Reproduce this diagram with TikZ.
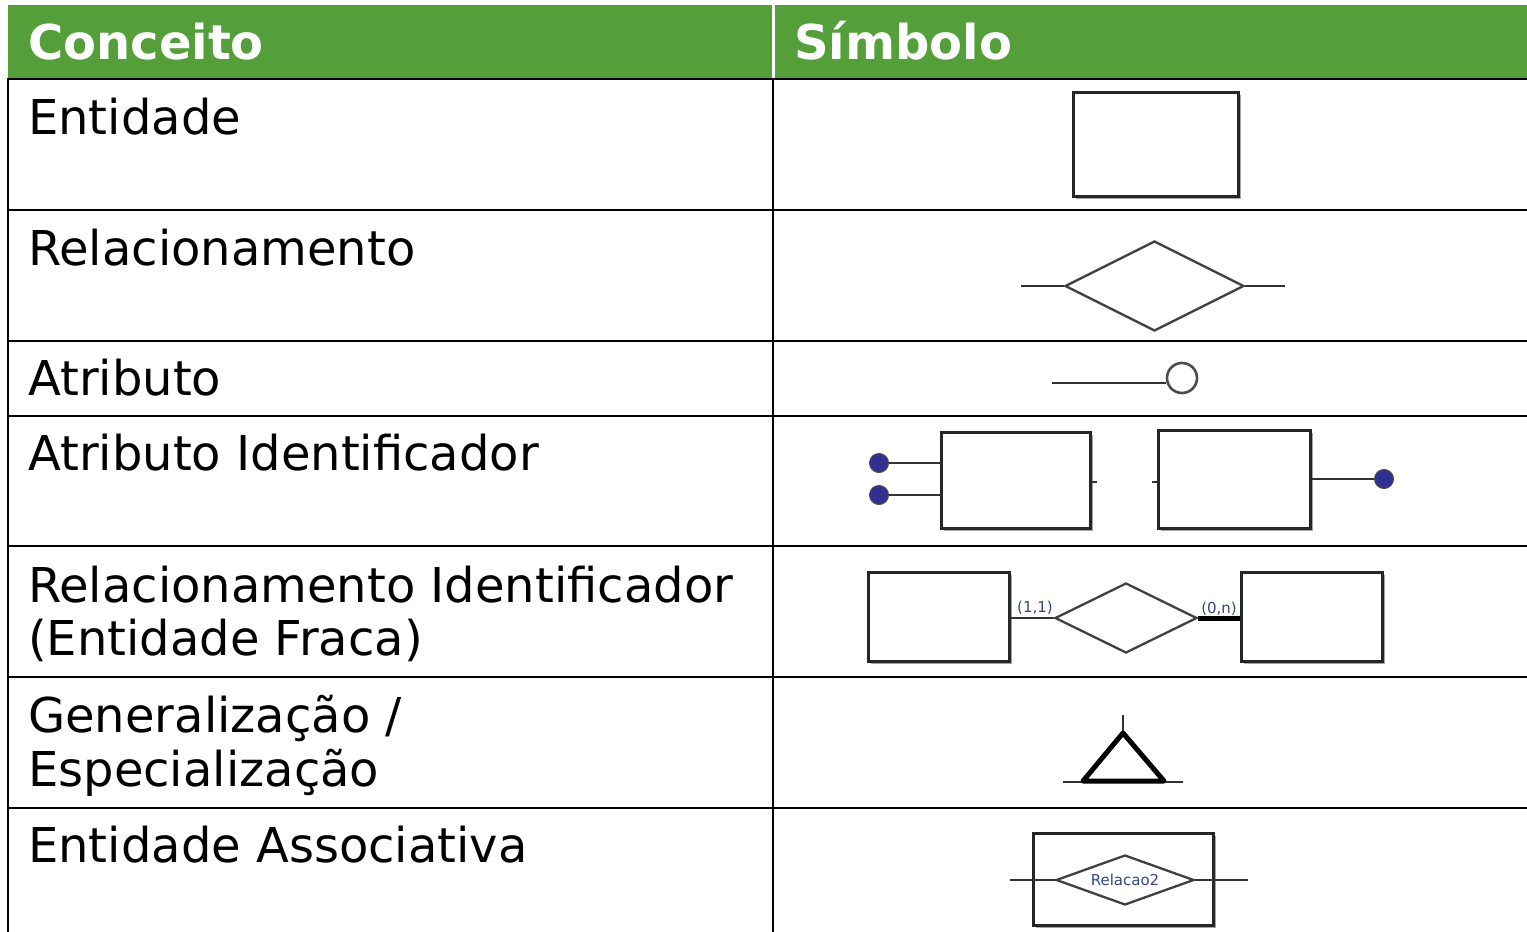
\documentclass[tikz,border=0pt]{standalone}
\usepackage{fontspec}
\setmainfont{DejaVu Sans}
\usetikzlibrary{shapes.geometric,shadows}
\definecolor{hdr}{RGB}{84,159,58}
\definecolor{dotblue}{RGB}{48,48,145}
\definecolor{lbl}{RGB}{55,70,125}
\tikzset{
  big/.style={anchor=base west,inner sep=0,font=\fontsize{48}{55}\selectfont},
  head/.style={anchor=base west,inner sep=0,text=white,font=\fontsize{48}{55}\selectfont\bfseries},
  grid/.style={line width=2.4},
  ent/.style={rectangle,draw=black!85,line width=3,fill=white,inner sep=0,
    drop shadow={shadow xshift=2.5pt,shadow yshift=-2.5pt,fill=black!35,opacity=1}},
  rel/.style={diamond,draw=black!75,line width=2.3,fill=white,inner sep=0},
  conn/.style={draw=black!80,line width=2.3},
  bdot/.style={circle,fill=dotblue,draw=black!70,line width=1,minimum size=19,inner sep=0},
  card/.style={anchor=south,inner sep=0,text=lbl,font=\fontsize{15}{17}\selectfont}
}
\begin{document}
\begin{tikzpicture}[x=1pt,y=-1pt]
\useasboundingbox (0,0) rectangle (1527,932);
% header
\fill[hdr] (8,5) rectangle (771.5,79);
\fill[hdr] (775,5) rectangle (1527,79);
\node[head] (h1) at (28,59) {Conceito};
\node[head] (h2) at (794,59) {Símbolo};
% grid
\foreach \yy in {79,210,341,416,546,677,808}
  \draw[grid] (7,\yy) -- (1527,\yy);
\draw[grid] (8,78) -- (8,932);
\draw[grid] (773,78) -- (773,932);
% concepts
\node[big] (c1) at (28,134) {Entidade};
\node[big] (c2) at (28,265) {Relacionamento};
\node[big] (c3) at (28,395) {Atributo};
\node[big] (c4) at (28,470) {Atributo Identificador};
\node[big] (c5) at (28,602) {Relacionamento Identificador};
\node[big] (c5b) at (28,655) {(Entidade Fraca)};
\node[big] (c6) at (28,732) {Generalização /};
\node[big] (c6b) at (28,786) {Especialização};
\node[big] (c7) at (28,862) {Entidade Associativa};
% 1 entity
\node[ent,minimum width=165,minimum height=104] (e1) at (1155.5,144) {};
% 2 relationship
\node[rel,minimum width=179,minimum height=90] (rd) at (1154.5,286) {};
\coordinate (rl) at (1021,286);
\coordinate (rr) at (1285,286);
\draw[conn] (rl) -- (rd.west);
\draw[conn] (rd.east) -- (rr);
% 3 attribute
\node[circle,draw=black!70,line width=2.6,minimum size=30,inner sep=0] (a2) at (1182,378) {};
\coordinate (a1) at (1052,383);
\draw[conn,line width=2.8] (a1) -- (a1 -| a2.west);
% 4 identifier attribute
\node[ent,minimum width=149,minimum height=96] (r1) at (1015.5,480) {};
\node[ent,minimum width=152,minimum height=98] (r2) at (1234,479) {};
\node[bdot] (d1) at (879,463) {};
\node[bdot] (d2) at (879,495) {};
\node[bdot] (d3) at (1384,479) {};
\draw[conn] (d1.east) -- (d1.east -| r1.west);
\draw[conn] (d2.east) -- (d2.east -| r1.west);
\draw[conn] (r2.east) -- (d3.west);
\coordinate (t1) at (1097,482);
\coordinate (t2) at (1152,482);
\draw[conn] (t1 -| r1.east) -- (t1);
\draw[conn] (t2) -- (t2 -| r2.west);
% 5 weak entity
\node[ent,minimum width=141,minimum height=89] (w1) at (938.5,616.5) {};
\node[ent,minimum width=141,minimum height=89] (w2) at (1311.5,616.5) {};
\node[rel,minimum width=142,minimum height=70] (wd) at (1126,618) {};
\draw[conn] (wd.west -| w1.east) -- (wd.west);
\draw[draw=black,line width=5] (wd.east) -- (wd.east -| w2.west);
\node[card] (k1) at (1035,615) {(1,1)};
\node[card] (k2) at (1219,616) {(0,n)};
% 6 generalization
\coordinate (g0) at (1123,715);
\coordinate (g1) at (1123,733);
\coordinate (g2) at (1083,781);
\coordinate (g3) at (1164,781);
\coordinate (gl) at (1063,782);
\coordinate (gr) at (1183,782);
\draw[conn,line width=2.8] (g0) -- (g1);
\draw[conn,line width=2.4] (gl) -- (gr);
\draw[black,line width=5,line join=round] (g1) -- (g2) -- (g3) -- cycle;
% 7 associative entity
\node[ent,minimum width=180,minimum height=92] (as1) at (1123,879) {};
\node[rel,minimum width=138,minimum height=50] (as2) at (1125,880) {};
\node[inner sep=0,text=lbl,font=\fontsize{15}{17}\selectfont] (as2t) at (as2.center) {Relacao2};
\coordinate (al) at (1010,880);
\coordinate (ar) at (1248,880);
\draw[conn] (al) -- (as2.west);
\draw[conn] (as2.east) -- (ar);
\end{tikzpicture}
\end{document}
